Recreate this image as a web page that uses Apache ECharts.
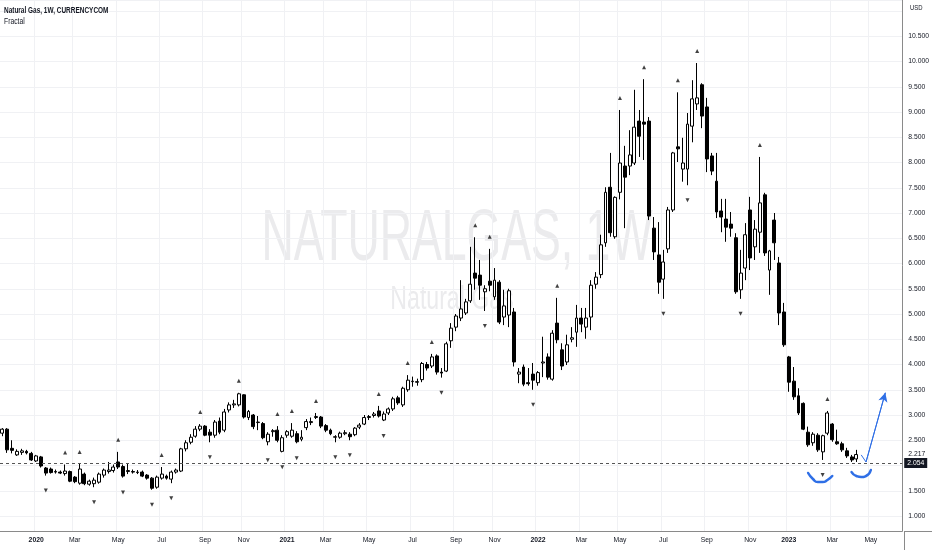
<!DOCTYPE html>
<html><head><meta charset="utf-8">
<script src="https://cdn.jsdelivr.net/npm/echarts@6/dist/echarts.min.js"></script>
<style>html,body{margin:0;padding:0;background:#fff}#c{width:932px;height:550px}</style>
</head><body><div id="c"></div>
<script>
// weekly categories (Monday of each week)
const firstWeek = [2019, 10, 18];
const weekCount = 187; // 178 candles + empty future weeks
const monthNames = ['Jan','Feb','Mar','Apr','May','Jun','Jul','Aug','Sep','Oct','Nov','Dec'];

const opens = [2.64,2.72,2.34,2.21,2.26,2.28,2.24,2.09,2.17,1.95,
1.93,1.88,1.87,1.84,1.88,1.77,1.65,1.83,1.63,1.64,
1.67,1.81,1.88,1.90,2.07,1.98,1.88,1.88,1.86,1.87,
1.81,1.75,1.57,1.75,1.79,1.73,1.87,1.89,2.33,2.46,
2.58,2.72,2.78,2.66,2.60,2.88,2.70,3.10,3.20,3.20,
3.40,2.95,3.00,2.85,2.83,2.47,2.67,2.70,2.28,2.60,
2.58,2.63,2.52,2.75,2.85,2.95,2.96,2.79,2.70,2.56,
2.56,2.63,2.62,2.61,2.76,2.82,2.95,2.99,3.08,2.90,
3.04,3.12,3.34,3.20,3.50,3.66,3.66,3.70,4.00,3.97,
4.17,3.85,3.87,4.47,4.74,4.92,5.02,5.26,5.81,5.77,
5.44,5.65,5.34,5.63,4.94,4.98,5.04,3.81,3.95,3.64,
3.81,3.64,4.03,4.15,3.71,4.82,4.29,4.05,4.50,4.64,
4.92,4.74,4.94,5.59,5.78,6.41,7.51,6.53,7.41,7.93,
7.93,7.99,8.82,8.80,8.82,6.70,6.17,5.69,6.29,7.06,
8.31,7.87,7.87,8.72,9.16,9.54,9.10,8.13,7.63,7.04,
6.88,6.78,6.51,5.48,5.91,7.06,6.33,6.62,7.36,5.87,
6.86,6.01,5.04,4.15,3.67,3.38,3.23,2.66,2.45,2.60,
2.27,2.64,2.82,2.47,2.43,2.29,2.17,2.13];
const highs = [2.74,2.74,2.50,2.32,2.33,2.31,2.27,2.21,2.19,1.97,
1.96,1.92,1.90,2.02,1.90,1.79,2.03,1.86,1.72,1.76,
1.86,1.94,2.07,2.02,2.27,2.02,2.03,1.92,1.91,1.90,
1.83,1.77,1.80,1.97,1.82,1.90,1.94,2.35,2.50,2.62,
2.78,2.82,2.80,2.72,2.90,2.95,3.12,3.25,3.30,3.44,
3.41,3.10,3.02,2.98,2.86,2.66,2.72,2.78,2.60,2.70,
2.84,2.68,2.70,2.92,2.95,3.04,2.98,2.82,2.73,2.60,
2.67,2.70,2.66,2.76,2.84,3.00,3.00,3.06,3.18,3.07,
3.15,3.36,3.38,3.56,3.79,3.76,3.72,4.05,4.05,4.21,
4.20,3.93,4.45,4.82,5.00,5.67,5.30,6.33,6.52,6.07,
5.57,6.29,5.91,5.67,5.48,5.50,5.12,3.93,4.00,3.93,
4.03,3.87,4.55,4.22,4.68,5.32,4.42,4.59,4.74,5.18,
5.12,5.12,5.67,5.83,6.57,7.51,8.19,7.33,9.04,8.33,
8.64,9.44,9.04,9.65,8.90,6.92,6.82,6.27,7.12,8.21,
9.39,8.49,8.98,9.63,9.97,9.57,9.28,8.19,8.19,7.28,
7.28,7.02,6.60,6.27,6.80,7.32,6.86,8.11,7.40,6.27,
7.00,6.13,5.22,4.17,3.95,3.53,3.25,2.77,2.66,2.64,
2.61,3.08,2.84,2.71,2.47,2.35,2.21,2.31];
const lows = [2.58,2.25,2.24,2.19,2.21,2.22,2.09,2.07,1.96,1.80,
1.84,1.84,1.83,1.80,1.67,1.65,1.62,1.61,1.60,1.57,
1.64,1.76,1.84,1.86,1.93,1.76,1.83,1.84,1.83,1.77,
1.72,1.52,1.54,1.72,1.72,1.65,1.84,1.87,2.28,2.42,
2.55,2.68,2.58,2.46,2.55,2.62,2.66,3.05,3.14,3.17,
2.93,2.90,2.72,2.70,2.52,2.40,2.57,2.46,2.26,2.55,
2.55,2.44,2.48,2.70,2.80,2.92,2.74,2.66,2.60,2.46,
2.53,2.60,2.50,2.58,2.72,2.80,2.90,2.95,2.95,2.88,
3.00,3.08,3.20,3.16,3.46,3.56,3.58,3.65,3.88,3.93,
3.80,3.74,3.85,4.33,4.66,4.86,4.98,5.22,5.48,5.28,
5.06,5.45,5.28,4.80,4.78,4.74,3.96,3.63,3.57,3.58,
3.50,3.58,3.75,3.70,3.68,4.42,3.89,3.99,4.44,4.35,
4.64,4.51,4.68,5.50,5.71,6.33,6.53,6.49,7.27,6.70,
7.75,7.95,8.11,8.05,6.86,6.07,5.40,5.30,6.21,7.02,
8.01,7.62,7.55,8.40,9.04,8.68,7.81,7.75,6.90,6.62,
6.43,6.53,5.40,5.30,5.67,5.87,6.07,6.21,6.15,5.38,
6.07,4.78,4.35,3.46,3.30,3.00,2.70,2.37,2.39,2.27,
2.11,2.60,2.47,2.41,2.27,2.15,2.07,2.07];
const closes = [2.72,2.31,2.30,2.28,2.29,2.25,2.11,2.19,1.99,1.85,
1.86,1.87,1.85,1.89,1.69,1.68,1.93,1.64,1.69,1.71,
1.83,1.91,1.91,1.97,1.97,1.79,1.90,1.87,1.87,1.79,
1.75,1.55,1.77,1.83,1.75,1.87,1.91,2.33,2.45,2.56,
2.72,2.78,2.60,2.60,2.86,2.66,3.06,3.20,3.22,3.42,
2.96,3.07,2.77,2.86,2.55,2.62,2.69,2.50,2.55,2.67,
2.70,2.47,2.56,2.87,2.87,2.97,2.78,2.70,2.63,2.57,
2.64,2.65,2.57,2.74,2.80,2.95,2.97,3.02,2.98,3.02,
3.12,3.32,3.24,3.53,3.69,3.67,3.65,4.02,3.93,4.15,
3.85,3.83,4.41,4.72,4.96,5.10,5.24,5.59,5.71,5.57,
5.50,5.57,5.67,4.84,5.16,5.46,4.05,3.85,3.61,3.62,
3.69,3.84,4.05,3.75,4.62,4.49,3.97,4.39,4.53,4.92,
4.80,4.92,5.57,5.73,6.37,7.41,6.61,7.31,7.99,7.71,
8.15,8.70,8.52,8.76,6.94,6.23,5.63,6.03,7.06,8.19,
8.27,7.99,8.76,9.26,9.28,8.92,8.07,7.83,7.02,6.92,
6.72,6.70,5.44,5.81,6.57,6.11,6.68,7.20,6.21,6.25,
6.41,5.02,4.39,3.65,3.36,3.04,2.72,2.41,2.62,2.31,
2.59,3.04,2.51,2.43,2.31,2.19,2.11,2.217];

// Williams fractal bars
const fractalUp = [13,16,24,33,41,49,57,60,65,78,84,89,98,101,115,128,133,140,144,157,171];
const fractalDown = [9,19,25,31,35,43,55,58,61,69,72,79,91,100,110,137,142,153,170];

const refPrice = 2.054;
const lastPrice = 2.217;

// hand-drawn annotations (bar index, price)
const smileA = [[167,1.852],[168,1.733],[169,1.673],[170,1.673],[171,1.713],[172,1.792]];
const smileB = [[176,1.871],[177,1.792],[178,1.772],[179,1.792],[180,1.911]];
const arrowTick = [[178,2.21],[179,2.07]];
const arrowLine = [[179,2.07],[183,3.44]];

const categories = [];
for (let i = 0; i < weekCount; i++) {
  const d = new Date(Date.UTC(firstWeek[0], firstWeek[1], firstWeek[2]) + i * 7 * 86400000);
  categories.push(d.toISOString().slice(0, 10));
}
const candles = opens.map((o, i) => [o, closes[i], lows[i], highs[i]]);

function showTick(idx, val) {
  const d = new Date(val + 'T00:00:00Z');
  return d.getUTCDate() <= 7 && d.getUTCMonth() % 2 === 0;
}
const FONT = "'Liberation Sans',sans-serif";
const TXT = '#131722';
const BLUE = '#2f6fe6';
const FS = 6.8;

const chart = echarts.init(document.getElementById('c'), null, {renderer: 'canvas'});
chart.setOption({
  animation: false,
  backgroundColor: '#ffffff',
  grid: {left: 0, right: 28, top: 0, bottom: 19, containLabel: false},
  xAxis: {
    type: 'category', data: categories, boundaryGap: true,
    axisLine: {show: true, lineStyle: {color: '#8a8a8a', width: 1}},
    axisTick: {show: false},
    axisLabel: {
      interval: showTick, margin: 6, fontSize: FS, fontFamily: FONT, color: TXT,
      formatter: function (v) {
        const d = new Date(v + 'T00:00:00Z');
        return d.getUTCMonth() === 0 ? '{y|' + d.getUTCFullYear() + '}' : monthNames[d.getUTCMonth()];
      },
      rich: {y: {fontWeight: 'bold', fontSize: FS, fontFamily: FONT, color: TXT}}
    },
    splitLine: {show: true, interval: showTick, lineStyle: {color: '#f0f1f4', width: 1}}
  },
  yAxis: {
    type: 'value', position: 'right', scale: true,
    min: 0.703, max: 11.218, splitNumber: 21, minInterval: 0.5, maxInterval: 0.5,
    axisLine: {show: true, lineStyle: {color: '#8a8a8a', width: 1}},
    axisTick: {show: false},
    axisLabel: {
      margin: 6, fontSize: FS, fontFamily: FONT, color: TXT,
      formatter: function (v) {
        const k = v * 2;
        if (Math.abs(k - Math.round(k)) > 1e-6 || v < 0.99 || v > 10.51) return '';
        return v.toFixed(3);
      }
    },
    splitLine: {show: true, lineStyle: {color: '#f0f1f4', width: 1}}
  },
  graphic: [
    {type: 'text', z: -10, x: 457, y: 240, scaleX: 0.62, style: {text: 'NATURALGAS, 1W', font: "72px 'Liberation Sans'", fill: '#ebebed', textAlign: 'center', textVerticalAlign: 'middle'}},
    {type: 'text', z: -10, x: 452, y: 300, scaleX: 0.68, style: {text: 'Natural Gas', font: "34px 'Liberation Sans'", fill: '#ebebed', textAlign: 'center', textVerticalAlign: 'middle'}},
    {type: 'text', z: 10, x: 4, y: 11, scaleX: 0.76, style: {text: 'Natural Gas, 1W, CURRENCYCOM', font: "bold 8.5px 'Liberation Sans',sans-serif", fill: TXT, textVerticalAlign: 'middle'}},
    {type: 'text', z: 10, x: 4, y: 22, scaleX: 0.8, style: {text: 'Fractal', font: "8.5px 'Liberation Sans',sans-serif", fill: TXT, textVerticalAlign: 'middle'}},
    {type: 'text', x: 910, y: 8, scaleX: 0.85, style: {text: 'USD', font: "7px 'Liberation Sans',sans-serif", fill: TXT, textVerticalAlign: 'middle'}},
    {type: 'line', shape: {x1: 904, y1: 531.5, x2: 932, y2: 531.5}, style: {stroke: '#8a8a8a', lineWidth: 1}},
    {type: 'line', shape: {x1: 904.5, y1: 531, x2: 904.5, y2: 550}, style: {stroke: '#8a8a8a', lineWidth: 1}}
  ],
  series: [
    {
      type: 'candlestick', data: candles, barWidth: 3.4,
      itemStyle: {color: '#ffffff', color0: '#000000', borderColor: '#000000', borderColor0: '#000000', borderWidth: 1},
      markLine: {
        silent: true, symbol: ['none', 'none'], animation: false,
        data: [
          {yAxis: refPrice, lineStyle: {type: [3, 3], color: '#555555', width: 1},
           label: {show: true, position: 'end', distance: 2, formatter: refPrice.toFixed(3), color: '#ffffff', backgroundColor: '#131722', padding: [2, 3, 1, 3], fontSize: FS, fontFamily: FONT}},
          {yAxis: lastPrice, lineStyle: {color: 'rgba(0,0,0,0)', width: 0},
           label: {show: true, position: 'end', distance: 6, formatter: lastPrice.toFixed(3), color: TXT, fontSize: FS, fontFamily: FONT}}
        ]
      }
    },
    {
      type: 'scatter', data: fractalUp.map(i => [i, highs[i]]), symbol: 'triangle', symbolSize: [4, 4],
      symbolOffset: [0, -12], itemStyle: {color: '#111111'}, silent: true
    },
    {
      type: 'scatter', data: fractalDown.map(i => [i, lows[i]]), symbol: 'triangle', symbolRotate: 180, symbolSize: [4, 4],
      symbolOffset: [0, 15], itemStyle: {color: '#111111'}, silent: true
    },
    {type: 'line', data: smileA, smooth: 0.6, symbol: 'none', lineStyle: {color: BLUE, width: 2.5, cap: 'round'}, silent: true},
    {type: 'line', data: smileB, smooth: 0.6, symbol: 'none', lineStyle: {color: BLUE, width: 2.5, cap: 'round'}, silent: true},
    {type: 'line', data: arrowTick, symbol: 'none', lineStyle: {color: BLUE, width: 1}, silent: true},
    {
      type: 'line', data: arrowLine, symbol: 'none', lineStyle: {color: BLUE, width: 1}, silent: true,
      markLine: {silent: true, symbol: ['none', 'arrow'], symbolSize: [7, 9], label: {show: false},
        lineStyle: {color: BLUE, width: 1, type: 'solid'},
        data: [[{coord: arrowLine[0]}, {coord: arrowLine[1]}]]}
    }
  ]
});
</script></body></html>
